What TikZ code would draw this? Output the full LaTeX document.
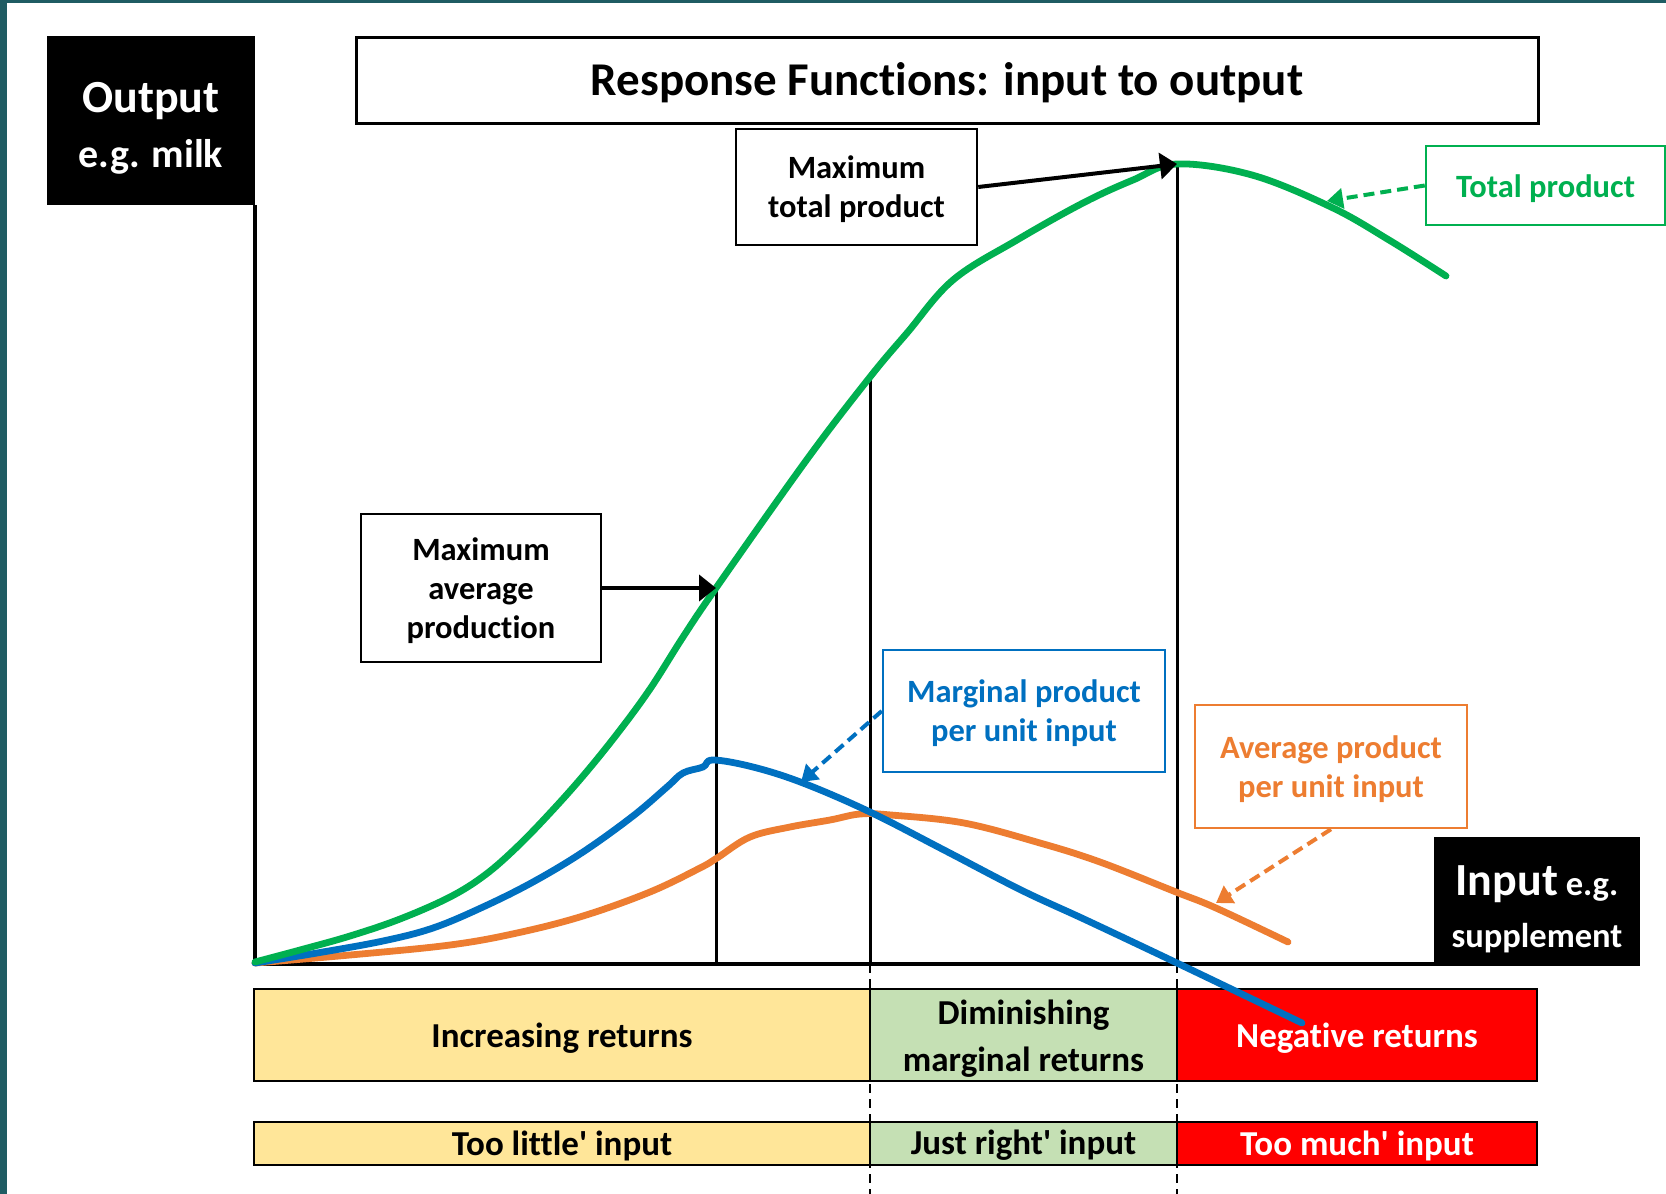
\documentclass[tikz,border=0pt]{standalone}
\usepackage{fontspec}
\setmainfont{Carlito}[Ligatures={TeXOff,NoCommon}]
\usetikzlibrary{arrows.meta}
\definecolor{tealbg}{HTML}{1F5C63}
\definecolor{tpgreen}{HTML}{00B050}
\definecolor{mpblue}{HTML}{0070C0}
\definecolor{aporange}{HTML}{ED7D31}
\definecolor{incyellow}{HTML}{FFE699}
\definecolor{dimgreen}{HTML}{C5E0B4}
\definecolor{negred}{HTML}{FF0000}
\newcommand{\fsz}[2]{\fontsize{#1pt}{#2pt}\selectfont}
\begin{document}
\begin{tikzpicture}[x=1pt,y=-1pt,
  box/.style={draw=black, line width=2.5pt, fill=white, inner sep=0pt},
  bar/.style={draw=black, line width=2pt, inner sep=0pt},
  txt/.style={align=center, inner sep=0pt, font=\bfseries\fsz{32.5}{39}},
  bartxt/.style={align=center, inner sep=0pt, font=\bfseries\fsz{35}{47}},
  curve/.style={line width=6.8pt, line cap=round, line join=round},
  guide/.style={line width=3pt},
  guidedash/.style={line width=2.5pt, dash pattern=on 9pt off 6pt},
  blackarrow/.style={line width=4pt, -{Triangle[length=17pt,width=26pt]}},
  dasharrow/.style={line width=4pt, dash pattern=on 11pt off 6pt, -{Triangle[length=16pt,width=20pt]}},
]
% background
\fill[tealbg] (0,0) rectangle (1666,1194);
\fill[white] (7,3) rectangle (1666,1194);
\useasboundingbox (0,0) rectangle (1666,1194);

% key coordinates
\coordinate (origin) at (255,964);
\coordinate (ytop) at (255,205);
\coordinate (xend) at (1434,964);
\coordinate (mapPt) at (716,588);
\coordinate (mapFoot) at (716,964);
\coordinate (mrPt) at (870,377);
\coordinate (mrFoot) at (870,964);
\coordinate (mrBot) at (870,1194);
\coordinate (tpPeak) at (1177,164);
\coordinate (tpFoot) at (1177,964);
\coordinate (tpBot) at (1177,1194);
\coordinate (tpTip) at (1327,201);
\coordinate (mpTip) at (801,782);
\coordinate (apTip) at (1216,903);

% dashed guides below axis
\draw[guidedash] (mrFoot) -- (mrBot);
\draw[guidedash] (tpFoot) -- (tpBot);

% bars
\node[bar, fill=incyellow, minimum width=616pt, minimum height=92pt] (incr) at (562,1035) {};
\node[bar, fill=dimgreen, minimum width=307pt, minimum height=92pt] (dimin) at (1023.5,1035) {};
\node[bar, fill=negred, minimum width=360pt, minimum height=92pt] (neg) at (1357,1035) {};
\node[bar, fill=incyellow, minimum width=616pt, minimum height=43pt] (little) at (562,1143.5) {};
\node[bar, fill=dimgreen, minimum width=307pt, minimum height=43pt] (right) at (1023.5,1143.5) {};
\node[bar, fill=negred, minimum width=360pt, minimum height=43pt] (much) at (1357,1143.5) {};
\node[bartxt] (incrtxt) at (562,1038) {Increasing returns};
\node[bartxt] (dimintxt) at (1023.5,1038.5) {Diminishing\\marginal returns};
\node[bartxt, text=white] (negtxt) at (1357,1038) {Negative returns};
\node[bartxt] (littletxt) at (562,1145.5) {Too little' input};
\node[bartxt] (righttxt) at (1023.5,1145.5) {Just right' input};
\node[bartxt, text=white] (muchtxt) at (1357,1145.5) {Too much' input};

% axes and guides
\draw[line width=4pt] (ytop) -- (origin) -- (xend);
\draw[guide] (mapPt) -- (mapFoot);
\draw[guide] (mrPt) -- (mrFoot);
\draw[guide] (tpPeak) -- (tpFoot);

% curves
\draw[curve, aporange] plot[smooth, tension=0.6] coordinates {(255,963) (350,955) (450,945) (517,933) (583,916) (650,892) (700,868) (717,858) (750,837) (790,827) (830,820) (860,814) (891,815) (964,823) (1040,843) (1100,862) (1176,892) (1216,908) (1288,942)};
\draw[curve, mpblue] plot[smooth, tension=0.6] coordinates {(255,963) (317,953) (383,941) (433,928) (483,907) (533,882) (583,852) (633,816) (667,787) (683,773) (703,767) (713,760) (753,767) (803,783) (870,812) (944,850) (1021,890) (1086,920) (1177,963) (1302,1023)};
\draw[curve, tpgreen] plot[smooth, tension=0.6] coordinates {(255,962) (300,950) (350,936) (400,919) (450,897) (485,875) (517,847) (550,813) (583,776) (617,734) (650,689) (683,637) (716,588) (808,458) (870,377) (907,333) (953,280) (1017,240) (1083,203) (1133,180) (1177,164) (1252,175) (1331,207) (1389,240) (1446,276)};

% black boxes
\node[fill=black, inner sep=0pt, minimum width=208pt, minimum height=169pt] (outbox) at (151,120.5) {};
\node[txt, text=white, font=\bfseries\fsz{46}{55}] (outtxt) at (151,128) {Output\\{\fsz{40}{55}e.g. milk}};
\node[fill=black, inner sep=0pt, minimum width=206pt, minimum height=129pt] (inbox) at (1537,901.5) {};
\node[txt, text=white, font=\bfseries\fsz{34.5}{52}] (intxt) at (1537,909) {{\fsz{46}{52}Input} e.g.\\supplement};

% title
\node[box, line width=3pt, minimum width=1182pt, minimum height=86pt] (title) at (947,80) {};
\node[txt, font=\bfseries\fsz{47}{56}] (titletxt) at (947,83) {Response Functions: input to output};

% annotation boxes
\node[box, minimum width=241pt, minimum height=116pt] (maxtp) at (856.5,187) {};
\node[txt] (maxtptxt) at (856.5,189.5) {Maximum\\total product};
\node[box, minimum width=240pt, minimum height=148pt] (maxap) at (481,588) {};
\node[txt] (maxaptxt) at (481,590.5) {Maximum\\average\\production};
\node[box, draw=tpgreen, minimum width=239pt, minimum height=79pt] (tplbl) at (1545.5,185.5) {};
\node[txt, text=tpgreen] (tptxt) at (1545.5,188.5) {Total product};
\node[box, draw=mpblue, minimum width=282pt, minimum height=122pt] (mplbl) at (1024,711) {};
\node[txt, text=mpblue] (mptxt) at (1024,713.5) {Marginal product\\per unit input};
\node[box, draw=aporange, minimum width=272pt, minimum height=123pt] (aplbl) at (1331,766.5) {};
\node[txt, text=aporange] (aptxt) at (1331,769) {Average product\\per unit input};

% arrows
\draw[blackarrow] (maxtp.east) -- (tpPeak);
\draw[blackarrow] (maxap.east) -- (mapPt);
\draw[dasharrow, tpgreen] (tplbl.west) -- (tpTip);
\draw[dasharrow, mpblue] (mplbl.west) -- (mpTip);
\draw[dasharrow, aporange] (aplbl.south) -- (apTip);
\end{tikzpicture}
\end{document}
